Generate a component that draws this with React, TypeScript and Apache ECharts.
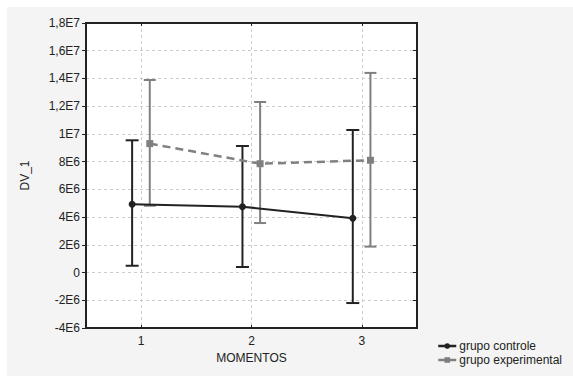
import React, { useEffect, useRef } from "react";
import * as echarts from "echarts";

const categories = ["1", "2", "3"];
const controlMean = [4.92e6, 4.75e6, 3.91e6];
const controlLow = [0.49e6, 0.4e6, -2.2e6];
const controlHigh = [9.54e6, 9.13e6, 10.28e6];
const expMean = [9.3e6, 7.85e6, 8.1e6];
const expLow = [4.82e6, 3.57e6, 1.87e6];
const expHigh = [13.89e6, 12.3e6, 14.4e6];
const yTickLabels = ["-4E6", "-2E6", "0", "2E6", "4E6", "6E6", "8E6", "1E7", "1,2E7", "1,4E7", "1,6E7", "1,8E7"];
const seriesNames = ["grupo controle", "grupo experimental"];

const Y_MIN = -4e6;
const Y_MAX = 1.8e7;
const Y_INT = 2e6;
const CTRL_SHIFT = -0.082;
const EXP_SHIFT = 0.078;

// half-step category axis: '', '1', '', '2', '', '3', ''
const axisCats: string[] = [""];
categories.forEach((c) => { axisCats.push(c); axisCats.push(""); });
const isMain = (i: number) => i % 2 === 1;

const FONT = "Liberation Sans, Arial, sans-serif";

function errBars(name: string, color: string, shift: number, lo: number[], hi: number[], capW: number) {
  return {
    type: "custom",
    name: name + " err",
    xAxisIndex: 1,
    yAxisIndex: 0,
    z: 2,
    silent: true,
    data: categories.map((_, i) => [i + 1 + shift, lo[i], hi[i]]),
    encode: { x: 0, y: [1, 2] },
    renderItem: (params: any, api: any) => {
      const x = api.value(0);
      const pLo = api.coord([x, api.value(1)]);
      const pHi = api.coord([x, api.value(2)]);
      const st = { stroke: color, lineWidth: 2 };
      const h = capW / 2;
      return {
        type: "group",
        children: [
          { type: "line", shape: { x1: pLo[0], y1: pLo[1], x2: pHi[0], y2: pHi[1] }, style: st },
          { type: "line", shape: { x1: pLo[0] - h, y1: pLo[1], x2: pLo[0] + h, y2: pLo[1] }, style: st },
          { type: "line", shape: { x1: pHi[0] - h, y1: pHi[1], x2: pHi[0] + h, y2: pHi[1] }, style: st },
        ],
      };
    },
  };
}

export default function App() {
  const ref = useRef<HTMLDivElement>(null);
  useEffect(() => {
    const chart = echarts.init(ref.current!, null, { renderer: "svg" });
    const yLabel = (v: number) => {
      const idx = Math.round((v - Y_MIN) / Y_INT);
      return yTickLabels[idx] ?? "";
    };
    chart.setOption({
      animation: false,
      backgroundColor: "#ffffff",
      graphic: [
        { type: "rect", z: -10, shape: { x: 7, y: 7, width: 573, height: 376 }, style: { fill: "#f3f4f3" } },
      ],
      grid: {
        left: 86, top: 23, right: 156, bottom: 48,
        show: true, backgroundColor: "#ffffff", borderColor: "#222", borderWidth: 2,
      },
      legend: {
        orient: "vertical",
        left: 432, top: 335,
        itemWidth: 18, itemHeight: 7, itemGap: 2,
        textStyle: { fontFamily: FONT, fontSize: 12, color: "#222", lineHeight: 12, padding: [0, 0, 0, -2] },
        data: seriesNames.map((n) => ({ name: n, lineStyle: { type: "solid", width: 2.5 } })),
      },
      xAxis: [
        {
          type: "category", data: axisCats, boundaryGap: false, position: "bottom",
          name: "MOMENTOS", nameLocation: "middle", nameGap: 20,
          nameTextStyle: { fontFamily: FONT, fontSize: 12, color: "#222" },
          axisLine: { show: true, onZero: false, lineStyle: { color: "#222", width: 2 } },
          axisTick: { show: true, inside: true, length: 3, interval: (i: number) => isMain(i), lineStyle: { color: "#222" } },
          axisLabel: { interval: 0, margin: 7, fontFamily: FONT, fontSize: 12, color: "#222" },
          splitLine: { show: true, interval: (i: number) => isMain(i), lineStyle: { color: "#cccccc", type: [3, 3], width: 1 } },
        },
        { type: "value", min: 0.5, max: 3.5, show: false },
        {
          type: "category", data: axisCats, boundaryGap: false, position: "top",
          axisLine: { show: true, onZero: false, lineStyle: { color: "#222", width: 2 } },
          axisTick: { show: true, inside: true, length: 3, interval: (i: number) => isMain(i), lineStyle: { color: "#222" } },
          axisLabel: { show: false },
          splitLine: { show: false },
        },
      ],
      yAxis: [
        {
          type: "value", min: Y_MIN, max: Y_MAX, interval: Y_INT,
          name: "DV_1", nameLocation: "middle", nameGap: 55, nameRotate: 90,
          nameTextStyle: { fontFamily: FONT, fontSize: 12, color: "#222" },
          axisLine: { show: true, onZero: false, lineStyle: { color: "#222", width: 2 } },
          axisTick: { show: true, length: 4, lineStyle: { color: "#222" } },
          axisLabel: { margin: 6, fontFamily: FONT, fontSize: 12, color: "#222", formatter: yLabel },
          splitLine: { show: true, lineStyle: { color: "#cccccc", type: [3, 3], width: 1 } },
        },
        {
          type: "value", min: Y_MIN, max: Y_MAX, interval: Y_INT, position: "right",
          axisLine: { show: true, onZero: false, lineStyle: { color: "#222", width: 2 } },
          axisTick: { show: true, inside: true, length: 4, lineStyle: { color: "#222" } },
          axisLabel: { show: false },
          splitLine: { show: false },
        },
      ],
      series: [
        errBars(seriesNames[0], "#222222", CTRL_SHIFT, controlLow, controlHigh, 13),
        errBars(seriesNames[1], "#808080", EXP_SHIFT, expLow, expHigh, 12),
        {
          type: "line", name: seriesNames[0], xAxisIndex: 1, yAxisIndex: 0, z: 3,
          data: categories.map((_, i) => [i + 1 + CTRL_SHIFT, controlMean[i]]),
          symbol: "circle", symbolSize: 7,
          itemStyle: { color: "#222222" },
          lineStyle: { color: "#222222", width: 2 },
        },
        {
          type: "line", name: seriesNames[1], xAxisIndex: 1, yAxisIndex: 0, z: 3,
          data: categories.map((_, i) => [i + 1 + EXP_SHIFT, expMean[i]]),
          symbol: "rect", symbolSize: 7,
          itemStyle: { color: "#808080" },
          lineStyle: { color: "#808080", width: 2.5, type: [8, 5] },
        },
      ],
    });
    return () => chart.dispose();
  }, []);
  return <div ref={ref} style={{ position: "absolute", left: 0, top: 0, width: 573, height: 376 }} />;
}
